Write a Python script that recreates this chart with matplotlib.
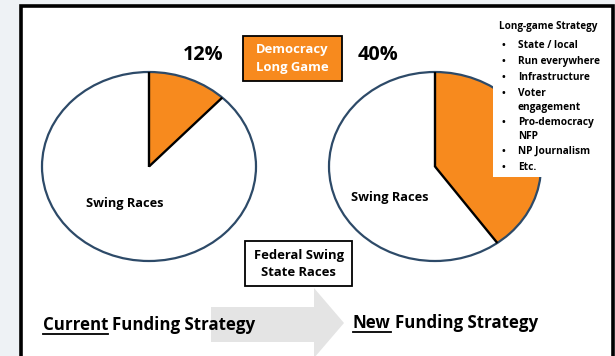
import matplotlib
matplotlib.use("Agg")
import matplotlib.pyplot as plt
import numpy as np
from matplotlib.patches import Rectangle, Ellipse, Polygon

# ---- data ----
strategies = ["Current", "New"]
long_game_share = [12, 40]          # percent of funding to the long game
pie_labels = ["Swing Races", "Swing Races"]
list_title = "Long-game Strategy"
list_items = ["State / local", "Run everywhere", "Infrastructure",
              "Voter\nengagement", "Pro-democracy\nNFP", "NP Journalism", "Etc."]

ORANGE = "#F78A1E"
OUTLINE = "#2d4a68"
FONT = ["Open Sans", "DejaVu Sans"]

W, H = 615, 356
fig = plt.figure(figsize=(W / 100, H / 100), dpi=100)
fig.patch.set_facecolor("#eef2f5")

# background axes in pixel coordinates
bg = fig.add_axes([0, 0, 1, 1], zorder=0)
bg.set_xlim(0, W); bg.set_ylim(H, 0); bg.axis("off")
bg.add_patch(Rectangle((21, 5.5), 591.5, 360, facecolor="white",
                       edgecolor="black", lw=2.6))

# pies (centre x, centre y, rx, ry in pixels)
pie_geom = [(149, 166.5, 107, 94.5), (435, 166.5, 106, 94.5)]
for share, (cx, cy, rx, ry) in zip(long_game_share, pie_geom):
    pa = fig.add_axes([(cx - rx) / W, 1 - (cy + ry) / H, 2 * rx / W, 2 * ry / H],
                      zorder=1)
    pa.pie([share, 100 - share], colors=[ORANGE, "white"], startangle=90,
           counterclock=False, radius=1, wedgeprops=dict(linewidth=0))
    pa.set_xlim(-1, 1); pa.set_ylim(-1, 1)
    pa.set_aspect("auto"); pa.axis("off")
    pa.add_patch(Ellipse((0, 0), 2, 2, facecolor="none", edgecolor=OUTLINE,
                         lw=1.6, clip_on=False))
    ang = np.deg2rad(90 - share / 100 * 360)
    pa.plot([0, 0], [1, 0], color="black", lw=1.7, solid_capstyle="butt")
    pa.plot([0, np.cos(ang)], [0, np.sin(ang)], color="black", lw=1.7,
            solid_capstyle="butt")

# overlay axes for annotations
ov = fig.add_axes([0, 0, 1, 1], zorder=2)
ov.set_xlim(0, W); ov.set_ylim(H, 0); ov.axis("off")
ov.patch.set_alpha(0)

# percentage labels
for share, (x, y) in zip(long_game_share, [(203, 55), (378, 55)]):
    ov.text(x, y, f"{share}%", fontsize=14.3, fontweight="bold", family=FONT,
            ha="center", va="center")

# swing race labels
for lab, (x, y) in zip(pie_labels, [(125, 203), (390, 198)]):
    ov.text(x, y, lab, fontsize=9.2, fontweight="bold", family=FONT,
            ha="center", va="center")

# "Democracy Long Game" box
ov.add_patch(Rectangle((243, 36), 99, 45, facecolor=ORANGE, edgecolor="black", lw=1.3))
ov.text(292.5, 50, "Democracy", color="white", fontsize=9.4, fontweight="bold",
        family=FONT, ha="center", va="center")
ov.text(292.5, 67, "Long Game", color="white", fontsize=9.4, fontweight="bold",
        family=FONT, ha="center", va="center")

# "Federal Swing State Races" box
ov.add_patch(Rectangle((245, 241), 107, 45, facecolor="white", edgecolor="black", lw=1.3))
ov.text(298.5, 255, "Federal Swing", fontsize=9.4, fontweight="bold",
        family=FONT, ha="center", va="center")
ov.text(298.5, 273, "State Races", fontsize=9.4, fontweight="bold",
        family=FONT, ha="center", va="center")

# strategy list box
ov.add_patch(Rectangle((493, 12), 118, 165, facecolor="white", edgecolor="none"))
ov.text(499, 27, list_title, fontsize=7.1, fontweight="bold", family=FONT,
        ha="left", va="center")
y = 45
for item in list_items:
    ov.text(502, y, "\u2022", fontsize=7.0, fontweight="bold", family=FONT,
            ha="left", va="center")
    lines = item.split("\n")
    for k, ln in enumerate(lines):
        ov.text(518, y + 14.3 * k, ln, fontsize=7.3, fontweight="bold",
                family=FONT, ha="left", va="center")
    y += 14.6 * len(lines) + (1.5 if len(lines) == 1 else 0)

# transition arrow
arrow = Polygon([(211, 307), (314, 307), (314, 288), (344, 323),
                 (314, 358), (314, 342), (211, 342)], closed=True,
                facecolor="#e4e4e4", edgecolor="none")
ov.add_patch(arrow)

# funding strategy titles with underlined first word
for word, x0, y0 in [(strategies[0], 43, 325), (strategies[1], 353, 323)]:
    t1 = ov.text(x0, y0, word, fontsize=12.2, fontweight="bold", family=FONT,
                 ha="left", va="center")
    fig.canvas.draw()
    bb = t1.get_window_extent().transformed(ov.transData.inverted())
    ov.plot([bb.x0, bb.x1], [y0 + 8.5, y0 + 8.5], color="black", lw=1.3)
    ov.text(bb.x1 + 4, y0, "Funding Strategy", fontsize=12.2, fontweight="bold",
            family=FONT, ha="left", va="center")

fig.savefig("out.png", dpi=100, facecolor=fig.get_facecolor())
